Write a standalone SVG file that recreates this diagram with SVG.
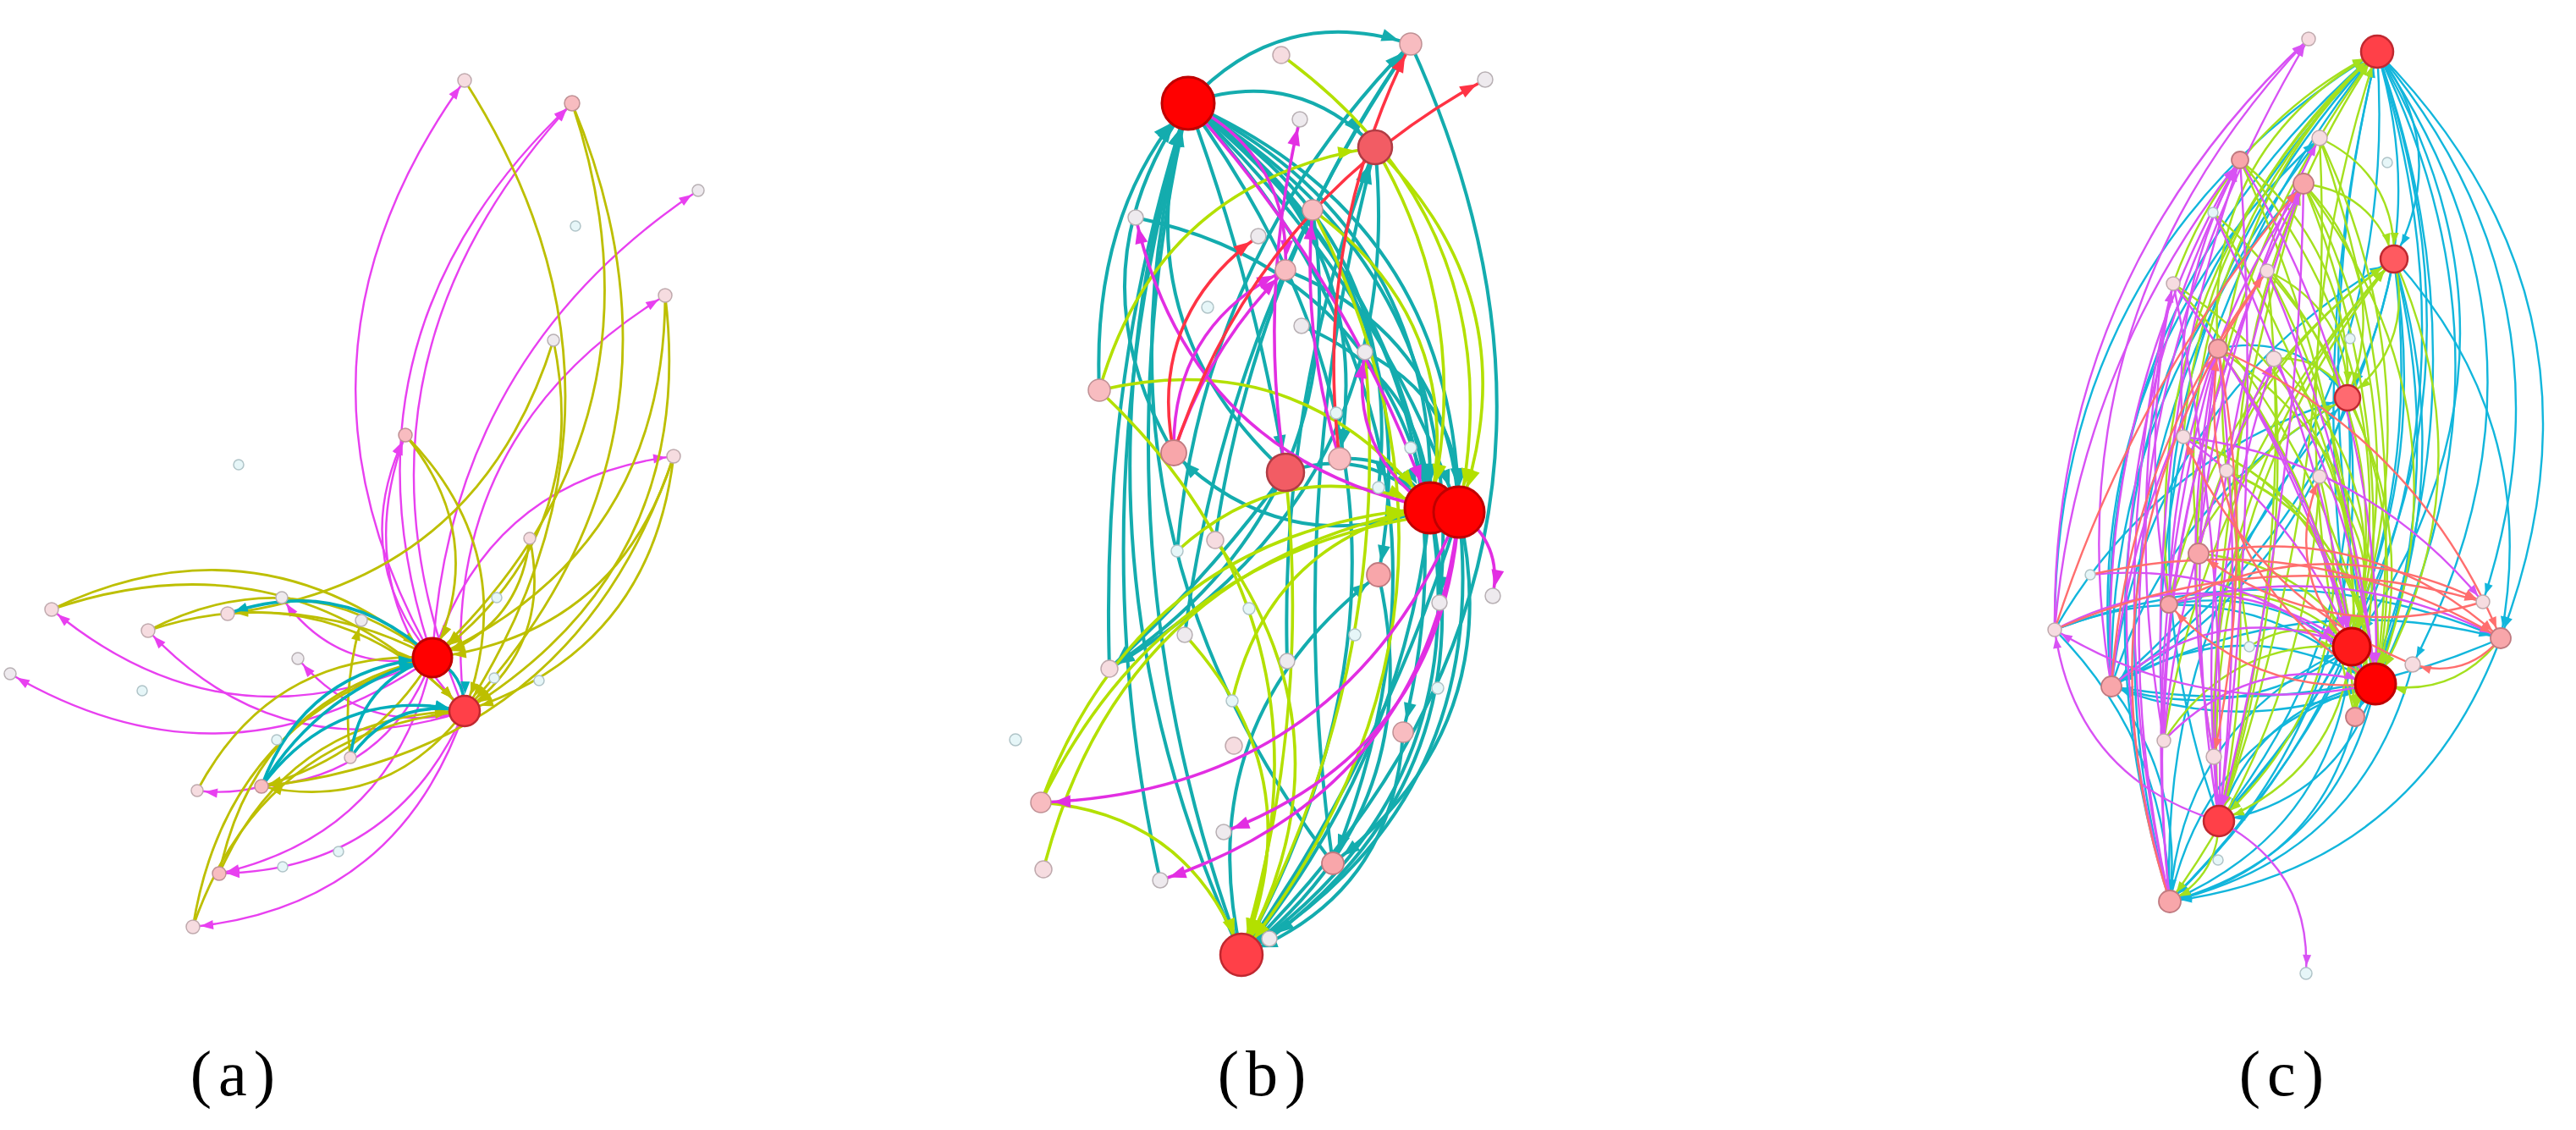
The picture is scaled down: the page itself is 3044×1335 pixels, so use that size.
<svg xmlns="http://www.w3.org/2000/svg" width="3044" height="1335" viewBox="0 0 3044 1335">
<style>
.np{fill:#f6dce0;stroke:#bfa9ad;stroke-width:1.5}
.nk{fill:#f8bcc0;stroke:#bf9094;stroke-width:1.5}
.nk2{fill:#f8a6aa;stroke:#c07a80;stroke-width:1.8}
.ng{fill:#eeeaee;stroke:#b8b0b4;stroke-width:1.5}
.nb{fill:#e6f6f8;stroke:#b0c4c8;stroke-width:1.5}
.nm{fill:#f25c64;stroke:#b03c44;stroke-width:2.5}
.nr{fill:#ff4048;stroke:#c02830;stroke-width:2.5}
.nR{fill:#ff0000;stroke:#c00000;stroke-width:3}
#connectors path{fill:none}
.lbl{font-family:"Liberation Serif","Times New Roman",serif;font-size:76px;fill:#000;text-anchor:middle;letter-spacing:8px}
</style>
<defs>
<marker id="Am_s" markerUnits="userSpaceOnUse" markerWidth="15" markerHeight="11" refX="24" refY="5.5" orient="auto" overflow="visible"><path d="M0,0L15,5.5L0,11z" fill="#e840f0"/></marker>
<marker id="Ao_s" markerUnits="userSpaceOnUse" markerWidth="15" markerHeight="11" refX="24" refY="5.5" orient="auto" overflow="visible"><path d="M0,0L15,5.5L0,11z" fill="#bdbf00"/></marker>
<marker id="Ao_1" markerUnits="userSpaceOnUse" markerWidth="15" markerHeight="11" refX="40" refY="5.5" orient="auto" overflow="visible"><path d="M0,0L15,5.5L0,11z" fill="#bdbf00"/></marker>
<marker id="Ao_2" markerUnits="userSpaceOnUse" markerWidth="15" markerHeight="11" refX="35" refY="5.5" orient="auto" overflow="visible"><path d="M0,0L15,5.5L0,11z" fill="#bdbf00"/></marker>
<marker id="At_s" markerUnits="userSpaceOnUse" markerWidth="15" markerHeight="11" refX="24" refY="5.5" orient="auto" overflow="visible"><path d="M0,0L15,5.5L0,11z" fill="#00aebb"/></marker>
<marker id="At_1" markerUnits="userSpaceOnUse" markerWidth="15" markerHeight="11" refX="40" refY="5.5" orient="auto" overflow="visible"><path d="M0,0L15,5.5L0,11z" fill="#00aebb"/></marker>
<marker id="At_2" markerUnits="userSpaceOnUse" markerWidth="15" markerHeight="11" refX="35" refY="5.5" orient="auto" overflow="visible"><path d="M0,0L15,5.5L0,11z" fill="#00aebb"/></marker>
<marker id="Bt_s" markerUnits="userSpaceOnUse" markerWidth="20" markerHeight="15" refX="31" refY="7.5" orient="auto" overflow="visible"><path d="M0,0L20,7.5L0,15z" fill="#14acae"/></marker>
<marker id="Bt_m" markerUnits="userSpaceOnUse" markerWidth="20" markerHeight="15" refX="35" refY="7.5" orient="auto" overflow="visible"><path d="M0,0L20,7.5L0,15z" fill="#14acae"/></marker>
<marker id="Bt_l" markerUnits="userSpaceOnUse" markerWidth="20" markerHeight="15" refX="44" refY="7.5" orient="auto" overflow="visible"><path d="M0,0L20,7.5L0,15z" fill="#14acae"/></marker>
<marker id="Bt_x" markerUnits="userSpaceOnUse" markerWidth="20" markerHeight="15" refX="52" refY="7.5" orient="auto" overflow="visible"><path d="M0,0L20,7.5L0,15z" fill="#14acae"/></marker>
<marker id="Bg_l" markerUnits="userSpaceOnUse" markerWidth="20" markerHeight="15" refX="44" refY="7.5" orient="auto" overflow="visible"><path d="M0,0L20,7.5L0,15z" fill="#b3e000"/></marker>
<marker id="Bg_x" markerUnits="userSpaceOnUse" markerWidth="20" markerHeight="15" refX="52" refY="7.5" orient="auto" overflow="visible"><path d="M0,0L20,7.5L0,15z" fill="#b3e000"/></marker>
<marker id="Bm_s" markerUnits="userSpaceOnUse" markerWidth="20" markerHeight="15" refX="31" refY="7.5" orient="auto" overflow="visible"><path d="M0,0L20,7.5L0,15z" fill="#e22ee2"/></marker>
<marker id="Bm_m" markerUnits="userSpaceOnUse" markerWidth="20" markerHeight="15" refX="35" refY="7.5" orient="auto" overflow="visible"><path d="M0,0L20,7.5L0,15z" fill="#e22ee2"/></marker>
<marker id="Bm_x" markerUnits="userSpaceOnUse" markerWidth="20" markerHeight="15" refX="52" refY="7.5" orient="auto" overflow="visible"><path d="M0,0L20,7.5L0,15z" fill="#e22ee2"/></marker>
<marker id="Br_s" markerUnits="userSpaceOnUse" markerWidth="20" markerHeight="15" refX="31" refY="7.5" orient="auto" overflow="visible"><path d="M0,0L20,7.5L0,15z" fill="#ff3344"/></marker>
<marker id="Br_m" markerUnits="userSpaceOnUse" markerWidth="20" markerHeight="15" refX="35" refY="7.5" orient="auto" overflow="visible"><path d="M0,0L20,7.5L0,15z" fill="#ff3344"/></marker>
<marker id="Cc_s" markerUnits="userSpaceOnUse" markerWidth="13" markerHeight="10" refX="22" refY="5" orient="auto" overflow="visible"><path d="M0,0L13,5L0,10z" fill="#12b6dc"/></marker>
<marker id="Cc_m" markerUnits="userSpaceOnUse" markerWidth="13" markerHeight="10" refX="26" refY="5" orient="auto" overflow="visible"><path d="M0,0L13,5L0,10z" fill="#12b6dc"/></marker>
<marker id="Cc_l" markerUnits="userSpaceOnUse" markerWidth="13" markerHeight="10" refX="31" refY="5" orient="auto" overflow="visible"><path d="M0,0L13,5L0,10z" fill="#12b6dc"/></marker>
<marker id="Cc_x" markerUnits="userSpaceOnUse" markerWidth="13" markerHeight="10" refX="37" refY="5" orient="auto" overflow="visible"><path d="M0,0L13,5L0,10z" fill="#12b6dc"/></marker>
<marker id="Cg_m" markerUnits="userSpaceOnUse" markerWidth="13" markerHeight="10" refX="26" refY="5" orient="auto" overflow="visible"><path d="M0,0L13,5L0,10z" fill="#a4e01e"/></marker>
<marker id="Cg_l" markerUnits="userSpaceOnUse" markerWidth="13" markerHeight="10" refX="31" refY="5" orient="auto" overflow="visible"><path d="M0,0L13,5L0,10z" fill="#a4e01e"/></marker>
<marker id="Cg_x" markerUnits="userSpaceOnUse" markerWidth="13" markerHeight="10" refX="37" refY="5" orient="auto" overflow="visible"><path d="M0,0L13,5L0,10z" fill="#a4e01e"/></marker>
<marker id="Cm_s" markerUnits="userSpaceOnUse" markerWidth="13" markerHeight="10" refX="22" refY="5" orient="auto" overflow="visible"><path d="M0,0L13,5L0,10z" fill="#d852f4"/></marker>
<marker id="Cm_m" markerUnits="userSpaceOnUse" markerWidth="13" markerHeight="10" refX="26" refY="5" orient="auto" overflow="visible"><path d="M0,0L13,5L0,10z" fill="#d852f4"/></marker>
<marker id="Cm_l" markerUnits="userSpaceOnUse" markerWidth="13" markerHeight="10" refX="31" refY="5" orient="auto" overflow="visible"><path d="M0,0L13,5L0,10z" fill="#d852f4"/></marker>
<marker id="Cm_x" markerUnits="userSpaceOnUse" markerWidth="13" markerHeight="10" refX="37" refY="5" orient="auto" overflow="visible"><path d="M0,0L13,5L0,10z" fill="#d852f4"/></marker>
<marker id="Cr_s" markerUnits="userSpaceOnUse" markerWidth="13" markerHeight="10" refX="22" refY="5" orient="auto" overflow="visible"><path d="M0,0L13,5L0,10z" fill="#ff6e6e"/></marker>
<marker id="Cr_m" markerUnits="userSpaceOnUse" markerWidth="13" markerHeight="10" refX="26" refY="5" orient="auto" overflow="visible"><path d="M0,0L13,5L0,10z" fill="#ff6e6e"/></marker>
</defs>
<rect width="3044" height="1335" fill="#ffffff"/>
<g id="connectors">
<!-- panel a -->
<g stroke="#e840f0" stroke-width="2.4" marker-end="url(#Am_s)">
<path d="M511,777 Q312,424 549,95"/><path d="M511,777 Q384,397 676,122"/><path d="M549,840 Q383,440 676,122"/><path d="M511,777 Q411,656 479,514"/><path d="M549,840 Q410,699 479,514"/><path d="M511,777 Q530,422 825,225"/><path d="M549,840 Q510,519 786,349"/><path d="M511,777 Q577,567 796,539"/><path d="M511,777 Q268,892 61,720"/><path d="M511,777 Q268,946 12,796"/><path d="M549,840 Q332,912 175,745"/><path d="M511,777 Q399,799 333,706"/><path d="M549,840 Q431,872 352,778"/><path d="M511,777 Q459,918 309,929"/><path d="M309,929 Q272,939 233,934"/><path d="M511,777 Q467,985 259,1032"/><path d="M549,840 Q465,1029 259,1032"/><path d="M549,840 Q470,1070 228,1095"/>
</g>
<g stroke="#bdbf00" stroke-width="2.8" marker-end="url(#Ao_1)">
<path d="M676,122 Q803,502 511,777"/><path d="M786,349 Q785,651 511,777"/><path d="M796,539 Q730,749 511,777"/><path d="M61,720 Q304,604 511,777"/><path d="M175,745 Q353,654 511,777"/><path d="M479,514 Q579,635 511,777"/><path d="M626,636 Q614,743 511,777"/><path d="M654,402 Q702,635 511,777"/><path d="M233,934 Q322,767 511,777"/><path d="M259,1032 Q303,824 511,777"/><path d="M228,1095 Q268,845 511,777"/>
</g>
<g stroke="#bdbf00" stroke-width="2.8" marker-end="url(#Ao_2)">
<path d="M549,95 Q787,468 549,840"/><path d="M676,122 Q842,522 549,840"/><path d="M786,349 Q825,670 549,840"/><path d="M796,539 Q769,769 549,840"/><path d="M61,720 Q343,624 549,840"/><path d="M175,745 Q392,673 549,840"/><path d="M479,514 Q618,655 549,840"/><path d="M626,636 Q653,763 549,840"/><path d="M259,1032 Q343,843 549,840"/><path d="M228,1095 Q307,865 549,840"/>
</g>
<g stroke="#bdbf00" stroke-width="2.8" marker-end="url(#Ao_s)">
<path d="M654,402 Q565,687 269,725"/><path d="M511,777 Q398,715 269,725"/><path d="M549,840 Q457,961 309,929"/><path d="M796,539 Q677,890 309,929"/><path d="M511,777 Q440,893 309,929"/><path d="M414,895 Q404,813 427,733"/>
</g>
<g stroke="#00aebb" stroke-width="3.6">
<path marker-end="url(#At_s)" d="M511,777 Q406,678 269,725"/>
<path marker-end="url(#At_1)" d="M309,929 Q361,788 511,777"/><path marker-end="url(#At_1)" d="M309,929 Q380,813 511,777"/><path marker-end="url(#At_1)" d="M414,895 Q425,805 511,777"/>
<path marker-end="url(#At_2)" d="M309,929 Q400,808 549,840"/><path marker-end="url(#At_2)" d="M414,895 Q464,824 549,840"/><path marker-end="url(#At_2)" d="M511,777 Q550,796 549,840"/>
</g>
<!-- panel b -->
<g stroke="#14acae" stroke-width="4">
<g marker-end="url(#Bt_m)">
<path d="M1404,122 Q1513,3 1667,52"/><path d="M1404,122 Q1695,329 1629,679"/><path d="M1404,122 Q1769,412 1658,865"/><path d="M1404,122 Q1777,516 1575,1020"/><path d="M1404,122 Q1628,275 1583,542"/><path d="M1724,605 Q1782,860 1575,1020"/><path d="M1400,750 Q1450,369 1667,52"/><path d="M1436,638 Q1481,317 1667,52"/><path d="M1391,651 Q1421,302 1667,52"/><path d="M1690,600 Q1518,664 1387,535"/><path d="M1467,1128 Q1404,852 1629,679"/>
</g>
<g marker-end="url(#Bt_s)">
<path d="M1404,122 Q1741,322 1701,712"/><path d="M1690,600 Q1758,915 1500,1109"/><path d="M1625,174 Q1665,583 1311,790"/><path d="M1551,248 Q1604,596 1311,790"/><path d="M1404,122 Q1662,277 1629,576"/><path d="M1519,558 Q1427,684 1311,790"/>
</g>
<g marker-end="url(#Bt_l)">
<path d="M1404,122 Q1531,77 1625,174"/><path d="M1404,122 Q1757,605 1467,1128"/><path d="M1690,600 Q1747,935 1467,1128"/><path d="M1724,605 Q1763,949 1467,1128"/><path d="M1690,600 Q1658,898 1467,1128"/><path d="M1724,605 Q1637,887 1467,1128"/><path d="M1629,679 Q1692,955 1467,1128"/><path d="M1658,865 Q1647,1058 1467,1128"/><path d="M1667,52 Q1944,660 1467,1128"/><path d="M1521,781 Q1512,467 1625,174"/><path d="M1575,1020 Q1515,592 1625,174"/><path d="M1404,122 Q1483,334 1519,558"/>
</g>
<g marker-end="url(#Bt_x)">
<path d="M1404,122 Q1700,270 1690,600"/><path d="M1404,122 Q1719,261 1724,605"/><path d="M1404,122 Q1643,304 1690,600"/><path d="M1404,122 Q1622,325 1724,605"/><path d="M1467,1128 Q1240,639 1404,122"/><path d="M1467,1128 Q1285,634 1404,122"/><path d="M1371,1040 Q1270,588 1404,122"/><path d="M1387,535 Q1263,323 1404,122"/><path d="M1519,558 Q1322,377 1404,122"/><path d="M1311,790 Q1300,437 1404,122"/><path d="M1575,1020 Q1265,614 1404,122"/><path d="M1299,461 Q1290,250 1404,122"/><path d="M1519,558 Q1618,524 1690,600"/><path d="M1583,542 Q1655,537 1690,600"/><path d="M1538,385 Q1683,444 1690,600"/><path d="M1613,416 Q1729,475 1724,605"/><path d="M1342,257 Q1626,317 1690,600"/><path d="M1519,319 Q1713,396 1724,605"/>
</g>
</g>
<g stroke="#b3e000" stroke-width="3.6">
<g marker-end="url(#Bg_x)">
<path d="M1514,65 Q1792,268 1724,605"/><path d="M1625,174 Q1812,358 1724,605"/><path d="M1625,174 Q1743,374 1690,600"/><path d="M1299,461 Q1539,405 1690,600"/><path d="M1551,248 Q1733,380 1690,600"/><path d="M1230,948 Q1349,627 1690,600"/><path d="M1233,1027 Q1325,667 1690,600"/><path d="M1230,948 Q1381,638 1724,605"/><path d="M1456,828 Q1500,639 1690,600"/><path d="M1391,651 Q1524,530 1690,600"/>
</g>
<g marker-end="url(#Bg_l)">
<path d="M1299,461 Q1370,213 1625,174"/><path d="M1299,461 Q1596,741 1467,1128"/><path d="M1551,248 Q1791,715 1467,1128"/><path d="M1230,948 Q1406,962 1467,1128"/><path d="M1436,638 Q1608,873 1467,1128"/><path d="M1400,750 Q1554,918 1467,1128"/><path d="M1519,558 Q1550,848 1467,1128"/><path d="M1613,416 Q1647,794 1467,1128"/>
</g>
</g>
<g stroke="#e22ee2" stroke-width="3.6">
<g marker-end="url(#Bm_m)">
<path d="M1404,122 Q1525,184 1519,319"/><path d="M1387,535 Q1384,385 1519,319"/><path d="M1387,535 Q1427,411 1519,319"/><path d="M1724,605 Q1587,935 1230,948"/><path d="M1583,542 Q1538,398 1551,248"/>
</g>
<g marker-end="url(#Bm_s)">
<path d="M1690,600 Q1406,540 1342,257"/><path d="M1724,605 Q1706,883 1446,983"/><path d="M1724,605 Q1687,935 1371,1040"/><path d="M1724,605 Q1776,642 1764,704"/><path d="M1690,600 Q1593,533 1613,416"/><path d="M1519,558 Q1486,348 1536,141"/>
</g>
<path marker-end="url(#Bm_x)" d="M1404,122 Q1595,332 1690,600"/>
</g>
<g stroke="#ff3344" stroke-width="3.6">
<path marker-end="url(#Br_s)" d="M1387,535 Q1355,375 1487,279"/><path marker-end="url(#Br_s)" d="M1387,535 Q1483,241 1755,94"/><path marker-end="url(#Br_m)" d="M1583,542 Q1551,284 1667,52"/>
</g>
<!-- panel c -->
<g stroke="#12b6dc" stroke-width="2.4">
<g marker-end="url(#Cc_s)">
<path d="M2809,61 Q3047,410 2851,785"/><path d="M2809,61 Q3053,351 2934,711"/><path d="M2495,811 Q2456,426 2741,163"/><path d="M2564,1065 Q2427,570 2741,163"/>
</g>
<g marker-end="url(#Cc_m)">
<path d="M2809,61 Q3104,361 2955,754"/><path d="M2809,61 Q2953,459 2783,847"/><path d="M2809,61 Q2988,637 2564,1065"/><path d="M2809,61 Q2840,515 2495,811"/><path d="M2829,306 Q2914,586 2783,847"/><path d="M2829,306 Q2886,752 2564,1065"/><path d="M2829,306 Q2763,625 2495,811"/><path d="M2829,306 Q3004,499 2955,754"/><path d="M2774,470 Q2818,820 2564,1065"/><path d="M2774,470 Q2703,696 2495,811"/><path d="M2779,764 Q2649,859 2495,811"/><path d="M2807,808 Q2652,872 2495,811"/><path d="M2955,754 Q2734,852 2495,811"/><path d="M2807,808 Q2763,1010 2564,1065"/><path d="M2779,764 Q2762,979 2564,1065"/><path d="M2783,847 Q2739,1022 2564,1065"/><path d="M2851,785 Q2792,1011 2564,1065"/><path d="M2955,754 Q2853,1027 2564,1065"/><path d="M2495,811 Q2714,691 2955,754"/><path d="M2428,744 Q2694,644 2955,754"/><path d="M2495,811 Q2580,924 2564,1065"/><path d="M2428,744 Q2560,877 2564,1065"/><path d="M2495,811 Q2490,469 2722,217"/>
</g>
<g marker-end="url(#Cc_l)">
<path d="M2809,61 Q2897,177 2829,306"/><path d="M2809,61 Q2988,572 2622,970"/><path d="M2809,61 Q2873,273 2774,470"/><path d="M2495,811 Q2464,357 2809,61"/><path d="M2428,744 Q2427,296 2809,61"/><path d="M2564,1065 Q2385,489 2809,61"/><path d="M2622,970 Q2443,459 2809,61"/><path d="M2557,875 Q2520,418 2809,61"/><path d="M2807,808 Q2718,435 2809,61"/><path d="M2779,764 Q2724,410 2809,61"/><path d="M2495,811 Q2536,475 2829,306"/><path d="M2495,811 Q2566,585 2774,470"/><path d="M2564,1065 Q2550,726 2774,470"/><path d="M2428,744 Q2546,538 2774,470"/><path d="M2829,306 Q2892,690 2622,970"/><path d="M2774,470 Q2798,750 2622,970"/><path d="M2807,808 Q2763,945 2622,970"/><path d="M2621,412 Q2716,392 2774,470"/>
</g>
<g marker-end="url(#Cc_x)">
<path d="M2809,61 Q3019,422 2779,764"/><path d="M2809,61 Q2995,435 2807,808"/><path d="M2829,306 Q2893,560 2807,808"/><path d="M2495,811 Q2650,716 2807,808"/><path d="M2428,744 Q2637,662 2807,808"/><path d="M2563,714 Q2713,688 2807,808"/><path d="M2622,970 Q2666,834 2807,808"/><path d="M2564,1065 Q2608,864 2807,808"/><path d="M2564,1065 Q2581,850 2779,764"/>
</g>
</g>
<g stroke="#a4e01e" stroke-width="2.4">
<g marker-end="url(#Cg_l)">
<path d="M2598,654 Q2555,305 2809,61"/><path d="M2563,714 Q2523,326 2809,61"/><path d="M2621,412 Q2603,176 2809,61"/><path d="M2631,556 Q2596,264 2809,61"/><path d="M2658,764 Q2593,382 2809,61"/><path d="M2616,894 Q2529,435 2809,61"/><path d="M2783,847 Q2678,450 2809,61"/><path d="M2580,516 Q2603,243 2809,61"/><path d="M2568,335 Q2634,150 2809,61"/><path d="M2829,306 Q2854,406 2774,470"/><path d="M2722,217 Q2829,327 2774,470"/><path d="M2722,217 Q2804,227 2829,306"/><path d="M2741,163 Q2831,206 2829,306"/><path d="M2563,714 Q2614,457 2829,306"/><path d="M2598,654 Q2644,434 2829,306"/><path d="M2622,970 Q2593,597 2829,306"/><path d="M2616,894 Q2605,557 2829,306"/><path d="M2557,875 Q2608,550 2829,306"/><path d="M2563,714 Q2620,550 2774,470"/><path d="M2679,320 Q2775,365 2774,470"/><path d="M2687,424 Q2745,419 2774,470"/><path d="M2647,189 Q2781,298 2774,470"/><path d="M2779,764 Q2762,914 2622,970"/><path d="M2741,563 Q2804,802 2622,970"/><path d="M2741,163 Q2762,578 2622,970"/><path d="M2679,320 Q2715,651 2622,970"/><path d="M2687,424 Q2709,703 2622,970"/><path d="M2631,556 Q2668,764 2622,970"/>
</g>
<g marker-end="url(#Cg_x)">
<path d="M2741,163 Q2880,456 2779,764"/><path d="M2722,217 Q2860,479 2779,764"/><path d="M2647,189 Q2857,444 2779,764"/><path d="M2679,320 Q2865,532 2807,808"/><path d="M2687,424 Q2835,566 2779,764"/><path d="M2568,335 Q2802,486 2779,764"/><path d="M2621,412 Q2833,554 2807,808"/><path d="M2615,251 Q2851,458 2779,764"/><path d="M2580,516 Q2781,594 2807,808"/><path d="M2631,556 Q2772,613 2779,764"/><path d="M2722,217 Q2930,489 2807,808"/><path d="M2829,306 Q2944,563 2807,808"/><path d="M2774,470 Q2858,632 2807,808"/><path d="M2598,654 Q2749,668 2807,808"/><path d="M2955,754 Q2898,828 2807,808"/><path d="M2741,163 Q2851,478 2807,808"/><path d="M2568,335 Q2758,536 2807,808"/><path d="M2615,251 Q2778,506 2807,808"/><path d="M2580,516 Q2754,580 2779,764"/><path d="M2631,556 Q2795,629 2807,808"/><path d="M2658,764 Q2718,725 2779,764"/><path d="M2741,563 Q2824,651 2779,764"/><path d="M2557,875 Q2635,753 2779,764"/><path d="M2563,714 Q2686,674 2779,764"/>
</g>
<g marker-end="url(#Cg_m)">
<path d="M2741,563 Q2728,841 2564,1065"/><path d="M2622,970 Q2621,1035 2564,1065"/><path d="M2647,189 Q2794,502 2783,847"/><path d="M2722,217 Q2847,523 2783,847"/><path d="M2679,320 Q2810,568 2783,847"/><path d="M2621,412 Q2767,605 2783,847"/><path d="M2616,894 Q2615,547 2722,217"/>
</g>
</g>
<g stroke="#d852f4" stroke-width="2.4">
<g marker-end="url(#Cm_s)">
<path d="M2495,811 Q2420,370 2728,46"/><path d="M2428,744 Q2424,329 2728,46"/><path d="M2564,1065 Q2442,523 2728,46"/><path d="M2598,654 Q2620,394 2741,163"/><path d="M2564,1065 Q2478,700 2568,335"/><path d="M2557,875 Q2509,604 2568,335"/><path d="M2563,714 Q2528,524 2568,335"/><path d="M2622,970 Q2600,690 2687,424"/><path d="M2557,875 Q2577,637 2687,424"/><path d="M2622,970 Q2731,1027 2725,1150"/><path d="M2622,970 Q2453,919 2428,744"/><path d="M2807,808 Q2605,852 2428,744"/><path d="M2580,516 Q2796,543 2934,711"/>
</g>
<g marker-end="url(#Cm_m)">
<path d="M2564,1065 Q2430,610 2647,189"/><path d="M2495,811 Q2478,477 2647,189"/><path d="M2428,744 Q2454,434 2647,189"/><path d="M2580,516 Q2564,342 2647,189"/><path d="M2557,875 Q2533,523 2647,189"/><path d="M2622,970 Q2582,581 2722,217"/><path d="M2564,1065 Q2516,617 2722,217"/><path d="M2557,875 Q2561,526 2722,217"/><path d="M2563,714 Q2568,442 2722,217"/><path d="M2564,1065 Q2527,733 2621,412"/><path d="M2622,970 Q2577,691 2621,412"/><path d="M2495,811 Q2518,599 2621,412"/><path d="M2616,894 Q2570,653 2621,412"/><path d="M2563,714 Q2767,656 2955,754"/>
</g>
<g marker-end="url(#Cm_x)">
<path d="M2428,744 Q2610,649 2779,764"/><path d="M2495,811 Q2623,702 2779,764"/><path d="M2470,679 Q2671,659 2807,808"/><path d="M2557,875 Q2662,766 2807,808"/><path d="M2647,189 Q2820,475 2807,808"/><path d="M2568,335 Q2716,528 2779,764"/><path d="M2621,412 Q2735,572 2779,764"/><path d="M2679,320 Q2782,554 2807,808"/><path d="M2580,516 Q2717,610 2779,764"/><path d="M2687,424 Q2785,604 2807,808"/><path d="M2615,251 Q2738,494 2779,764"/>
</g>
<g marker-end="url(#Cm_l)">
<path d="M2647,189 Q2673,581 2622,970"/><path d="M2568,335 Q2633,649 2622,970"/><path d="M2621,412 Q2655,691 2622,970"/><path d="M2722,217 Q2717,599 2622,970"/>
</g>
</g>
<g stroke="#ff6e6e" stroke-width="2.4">
<g marker-end="url(#Cr_s)">
<path d="M2495,811 Q2513,538 2679,320"/><path d="M2564,1065 Q2435,664 2679,320"/><path d="M2563,714 Q2748,620 2934,711"/><path d="M2428,744 Q2675,636 2934,711"/><path d="M2955,754 Q2913,803 2851,785"/><path d="M2851,785 Q2662,705 2580,516"/><path d="M2779,764 Q2696,676 2741,563"/><path d="M2621,412 Q2667,654 2616,894"/>
</g>
<g marker-end="url(#Cr_m)">
<path d="M2428,744 Q2522,451 2722,217"/><path d="M2807,808 Q2587,670 2621,412"/><path d="M2598,654 Q2802,615 2955,754"/><path d="M2621,412 Q2856,516 2955,754"/><path d="M2807,808 Q2661,822 2563,714"/><path d="M2934,711 Q2752,766 2598,654"/><path d="M2470,679 Q2728,620 2955,754"/>
</g>
</g>
</g>
<g id="nodes-a">
<g id="a1"><circle class="np" cx="549" cy="95" r="8"/></g>
<g id="a2"><circle class="nk" cx="676" cy="122" r="9"/></g>
<g id="a3"><circle class="ng" cx="825" cy="225" r="7"/></g>
<g id="a4"><circle class="nb" cx="680" cy="267" r="6"/></g>
<g id="a5"><circle class="np" cx="786" cy="349" r="8"/></g>
<g id="a6"><circle class="ng" cx="654" cy="402" r="7"/></g>
<g id="a7"><circle class="nk" cx="479" cy="514" r="8"/></g>
<g id="a8"><circle class="nb" cx="282" cy="549" r="6"/></g>
<g id="a9"><circle class="np" cx="796" cy="539" r="8"/></g>
<g id="a10"><circle class="np" cx="626" cy="636" r="7"/></g>
<g id="a11"><circle class="nb" cx="587" cy="706" r="6"/></g>
<g id="a12"><circle class="nb" cx="637" cy="804" r="6"/></g>
<g id="a13"><circle class="nb" cx="584" cy="801" r="6"/></g>
<g id="a14"><circle class="np" cx="61" cy="720" r="8"/></g>
<g id="a15"><circle class="np" cx="175" cy="745" r="8"/></g>
<g id="a16"><circle class="np" cx="269" cy="725" r="8"/></g>
<g id="a17"><circle class="ng" cx="333" cy="706" r="7"/></g>
<g id="a18"><circle class="ng" cx="427" cy="733" r="7"/></g>
<g id="a19"><circle class="ng" cx="12" cy="796" r="7"/></g>
<g id="a20"><circle class="nb" cx="168" cy="816" r="6"/></g>
<g id="a21"><circle class="ng" cx="352" cy="778" r="7"/></g>
<g id="a22"><circle class="nb" cx="327" cy="874" r="6"/></g>
<g id="a23"><circle class="np" cx="414" cy="895" r="7"/></g>
<g id="a24"><circle class="nk" cx="309" cy="929" r="8"/></g>
<g id="a25"><circle class="np" cx="233" cy="934" r="7"/></g>
<g id="a26"><circle class="nb" cx="400" cy="1006" r="6"/></g>
<g id="a27"><circle class="nb" cx="334" cy="1024" r="6"/></g>
<g id="a28"><circle class="nk" cx="259" cy="1032" r="8"/></g>
<g id="a29"><circle class="np" cx="228" cy="1095" r="8"/></g>
<g id="aR1"><circle class="nR" cx="511" cy="777" r="23"/></g>
<g id="aR2"><circle class="nr" cx="549" cy="840" r="18"/></g>
</g>
<g id="nodes-b">
<g id="b2"><circle class="np" cx="1514" cy="65" r="10"/></g>
<g id="b3"><circle class="nk" cx="1667" cy="52" r="13"/></g>
<g id="b4"><circle class="ng" cx="1755" cy="94" r="9"/></g>
<g id="b5"><circle class="ng" cx="1536" cy="141" r="9"/></g>
<g id="b7"><circle class="ng" cx="1342" cy="257" r="9"/></g>
<g id="b8"><circle class="ng" cx="1487" cy="279" r="9"/></g>
<g id="b9"><circle class="nk" cx="1551" cy="248" r="12"/></g>
<g id="b10"><circle class="nk" cx="1519" cy="319" r="12"/></g>
<g id="b11"><circle class="nb" cx="1427" cy="363" r="7"/></g>
<g id="b12"><circle class="ng" cx="1538" cy="385" r="9"/></g>
<g id="b13"><circle class="ng" cx="1613" cy="416" r="9"/></g>
<g id="b14"><circle class="nk" cx="1299" cy="461" r="13"/></g>
<g id="b15"><circle class="nk2" cx="1387" cy="535" r="15"/></g>
<g id="b17"><circle class="nk" cx="1583" cy="542" r="13"/></g>
<g id="b18"><circle class="nb" cx="1579" cy="488" r="7"/></g>
<g id="b19"><circle class="nb" cx="1667" cy="529" r="7"/></g>
<g id="b20"><circle class="nb" cx="1629" cy="576" r="7"/></g>
<g id="b21"><circle class="np" cx="1436" cy="638" r="10"/></g>
<g id="b22"><circle class="nb" cx="1391" cy="651" r="7"/></g>
<g id="b23"><circle class="nk2" cx="1629" cy="679" r="14"/></g>
<g id="b24"><circle class="ng" cx="1764" cy="704" r="9"/></g>
<g id="b25"><circle class="ng" cx="1701" cy="712" r="9"/></g>
<g id="b26"><circle class="nb" cx="1476" cy="719" r="7"/></g>
<g id="b27"><circle class="ng" cx="1400" cy="750" r="9"/></g>
<g id="b28"><circle class="nb" cx="1601" cy="750" r="7"/></g>
<g id="b29"><circle class="ng" cx="1521" cy="781" r="9"/></g>
<g id="b30"><circle class="np" cx="1311" cy="790" r="10"/></g>
<g id="b31"><circle class="nb" cx="1699" cy="813" r="7"/></g>
<g id="b32"><circle class="nb" cx="1456" cy="828" r="7"/></g>
<g id="b33"><circle class="nb" cx="1200" cy="874" r="7"/></g>
<g id="b34"><circle class="np" cx="1458" cy="881" r="10"/></g>
<g id="b35"><circle class="nk" cx="1658" cy="865" r="12"/></g>
<g id="b36"><circle class="nk" cx="1230" cy="948" r="12"/></g>
<g id="b37"><circle class="ng" cx="1446" cy="983" r="9"/></g>
<g id="b38"><circle class="nk2" cx="1575" cy="1020" r="13"/></g>
<g id="b39"><circle class="np" cx="1233" cy="1027" r="10"/></g>
<g id="b40"><circle class="ng" cx="1371" cy="1040" r="9"/></g>
<g id="b42"><circle class="ng" cx="1500" cy="1109" r="9"/></g>
<g id="bB1"><circle class="nR" cx="1404" cy="122" r="31"/></g>
<g id="bB6"><circle class="nm" cx="1625" cy="174" r="20"/></g>
<g id="bB16"><circle class="nm" cx="1519" cy="558" r="22"/></g>
<g id="bB41"><circle class="nr" cx="1467" cy="1128" r="25"/></g>
<g id="bBR1"><circle class="nR" cx="1690" cy="600" r="30"/></g>
<g id="bBR2"><circle class="nR" cx="1724" cy="605" r="30"/></g>
</g>
<g id="nodes-c">
<g id="c1"><circle class="np" cx="2728" cy="46" r="8"/></g>
<g id="c3"><circle class="np" cx="2741" cy="163" r="9"/></g>
<g id="c4"><circle class="nk2" cx="2647" cy="189" r="10"/></g>
<g id="c5"><circle class="nb" cx="2821" cy="192" r="6"/></g>
<g id="c6"><circle class="nk2" cx="2722" cy="217" r="12"/></g>
<g id="c7"><circle class="nb" cx="2615" cy="251" r="6"/></g>
<g id="c9"><circle class="np" cx="2679" cy="320" r="8"/></g>
<g id="c10"><circle class="np" cx="2568" cy="335" r="8"/></g>
<g id="c11"><circle class="nb" cx="2777" cy="400" r="6"/></g>
<g id="c12"><circle class="nk2" cx="2621" cy="412" r="11"/></g>
<g id="c13"><circle class="np" cx="2687" cy="424" r="9"/></g>
<g id="c15"><circle class="np" cx="2580" cy="516" r="8"/></g>
<g id="c16"><circle class="np" cx="2631" cy="556" r="8"/></g>
<g id="c17"><circle class="np" cx="2741" cy="563" r="8"/></g>
<g id="c18"><circle class="nk2" cx="2598" cy="654" r="12"/></g>
<g id="c19"><circle class="nb" cx="2470" cy="679" r="6"/></g>
<g id="c20"><circle class="nk2" cx="2563" cy="714" r="10"/></g>
<g id="c21"><circle class="np" cx="2934" cy="711" r="8"/></g>
<g id="c22"><circle class="np" cx="2428" cy="744" r="8"/></g>
<g id="c23"><circle class="nk2" cx="2955" cy="754" r="12"/></g>
<g id="c24"><circle class="nb" cx="2658" cy="764" r="6"/></g>
<g id="c26"><circle class="np" cx="2851" cy="785" r="9"/></g>
<g id="c28"><circle class="nk2" cx="2495" cy="811" r="12"/></g>
<g id="c29"><circle class="nk2" cx="2783" cy="847" r="11"/></g>
<g id="c30"><circle class="np" cx="2557" cy="875" r="8"/></g>
<g id="c31"><circle class="np" cx="2616" cy="894" r="9"/></g>
<g id="c33"><circle class="nb" cx="2621" cy="1016" r="6"/></g>
<g id="c34"><circle class="nk2" cx="2564" cy="1065" r="13"/></g>
<g id="c35"><circle class="nb" cx="2725" cy="1150" r="7"/></g>
<g id="cC2"><circle class="nr" cx="2809" cy="61" r="19"/></g>
<g id="cC8"><circle class="nr" cx="2829" cy="306" r="16" style="fill:#ff5a60"/></g>
<g id="cC14"><circle class="nr" cx="2774" cy="470" r="15" style="fill:#ff6a70"/></g>
<g id="cC25"><circle class="nR" cx="2779" cy="764" r="22" style="fill:#ff1a1a"/></g>
<g id="cC27"><circle class="nR" cx="2807" cy="808" r="24"/></g>
<g id="cC32"><circle class="nr" cx="2622" cy="970" r="18"/></g>
</g>
<g id="labels">
<text class="lbl" x="279" y="1294">(a)</text>
<text class="lbl" x="1495" y="1294">(b)</text>
<text class="lbl" x="2700" y="1294">(c)</text>
</g>
</svg>
